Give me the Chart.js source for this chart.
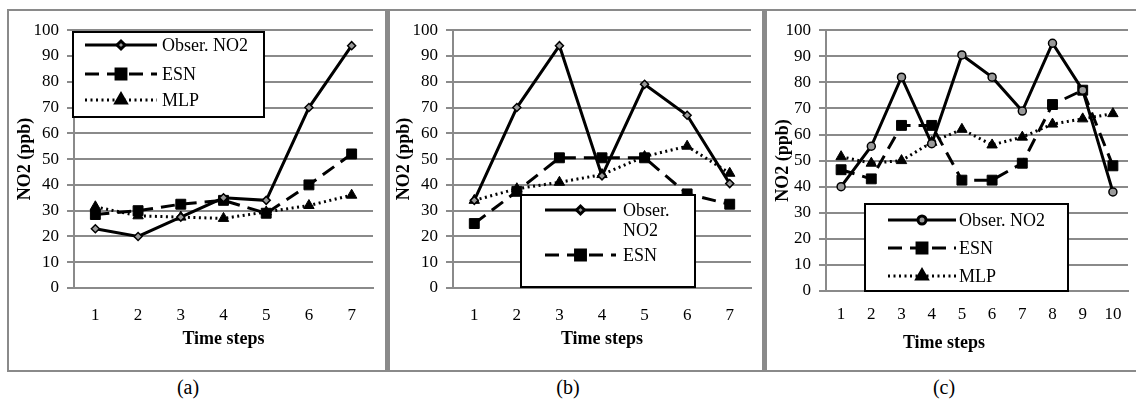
<!DOCTYPE html>
<html>
<head>
<meta charset="utf-8">
<script src="https://cdn.jsdelivr.net/npm/chart.js@4.4.0/dist/chart.umd.min.js"></script>
<style>
  body { margin: 0; background: #fff; width: 1136px; height: 408px; overflow: hidden; position: relative;
         font-family: "Liberation Serif", "Times New Roman", serif; }
  .frame { position: absolute; left: 7px; top: 9px; width: 1140px; height: 359px; border: 2px solid #8a8a8a; }
  .sep { position: absolute; top: 9px; height: 363px; width: 5px; background: #8a8a8a; }
  canvas { position: absolute; }
  .cap { position: absolute; top: 375px; font-size: 20px; line-height: 24px; transform: translateX(-50%); }
</style>
</head>
<body>
<div class="frame"></div>
<div class="sep" style="left:385px"></div>
<div class="sep" style="left:762px"></div>
<canvas id="chartA" width="376" height="358" style="left:9px;top:12px"></canvas>
<canvas id="chartB" width="372" height="358" style="left:390px;top:12px"></canvas>
<canvas id="chartC" width="369" height="358" style="left:767px;top:12px"></canvas>
<div class="cap" style="left:188px">(a)</div>
<div class="cap" style="left:568px">(b)</div>
<div class="cap" style="left:944px">(c)</div>

<script>
// data
var stepsA = ['1', '2', '3', '4', '5', '6', '7'];
var obsA = [23, 20, 27.5, 35, 34, 70, 94];
var esnA = [28.5, 30, 32.5, 34, 29, 40, 52];
var mlpA = [31.5, 28, 27.5, 27, 29.5, 32, 36];

var stepsB = ['1', '2', '3', '4', '5', '6', '7'];
var obsB = [34, 70, 94, 43.5, 79, 67, 40.5];
var esnB = [25, 37.5, 50.5, 50.5, 50.5, 36.5, 32.5];
var mlpB = [34, 38.5, 41, 44, 51, 55, 44.5];

var stepsC = ['1', '2', '3', '4', '5', '6', '7', '8', '9', '10'];
var obsC = [40, 55.5, 82, 56.5, 90.5, 82, 69, 95, 77, 38];
var esnC = [46.5, 43, 63.5, 63.5, 42.5, 42.5, 49, 71.5, 77, 48];
var mlpC = [51.5, 49, 50, 57, 62, 56, 59, 64, 66, 68];

var seriesNames = ['Obser. NO2', 'ESN', 'MLP'];

var FONT = '"Liberation Serif", "Times New Roman", serif';
var GRID = '#8a8a8a';

// legend box drawn inside the plot, like the Excel original
var boxLegend = {
  id: 'boxLegend',
  afterDraw: function (chart, args, o) {
    var ctx = chart.ctx;
    ctx.save();
    ctx.fillStyle = '#fff';
    ctx.fillRect(o.x, o.y, o.w, o.h);
    ctx.strokeStyle = '#000';
    ctx.lineWidth = 2;
    ctx.strokeRect(o.x, o.y, o.w, o.h);
    ctx.font = '18px ' + FONT;
    ctx.textBaseline = 'middle';
    ctx.fillStyle = '#000';
    o.rows.forEach(function (r) {
      if (r.ds != null) {
        var ds = chart.data.datasets[r.ds];
        ctx.save();
        ctx.strokeStyle = '#000';
        ctx.lineWidth = ds.borderWidth;
        ctx.setLineDash(ds.borderDash || []);
        ctx.beginPath();
        ctx.moveTo(o.lx0, r.y);
        ctx.lineTo(o.lx1, r.y);
        ctx.stroke();
        ctx.setLineDash([]);
        ctx.fillStyle = ds.pointBackgroundColor;
        ctx.strokeStyle = '#000';
        Chart.helpers.drawPoint(ctx, {
          pointStyle: ds.pointStyle, radius: ds.pointRadius,
          borderWidth: ds.pointBorderWidth, rotation: 0
        }, (o.lx0 + o.lx1) / 2, r.y);
        ctx.restore();
      }
      ctx.fillText(r.text, o.tx, r.y + 1);
    });
    ctx.restore();
  }
};

// x axis title ("Time steps"), with optional horizontal shift
var xTitle = {
  id: 'xTitle',
  afterDraw: function (chart, args, o) {
    var a = chart.chartArea, ctx = chart.ctx;
    ctx.save();
    ctx.font = 'bold 18px ' + FONT;
    ctx.fillStyle = '#000';
    ctx.textAlign = 'center';
    ctx.textBaseline = 'middle';
    ctx.fillText('Time steps', (a.left + a.right) / 2 + o.dx, a.bottom + o.dy);
    ctx.restore();
  }
};

function makeChart(id, steps, obs, esn, mlp, cfg) {
  var ctx = document.getElementById(id).getContext('2d');
  return new Chart(ctx, {
    type: 'line',
    data: {
      labels: steps,
      datasets: [{
        label: seriesNames[0],
        data: obs,
        borderColor: '#000',
        borderWidth: 3,
        pointStyle: cfg.obsStyle,
        pointRadius: 4,
        pointBackgroundColor: '#9a9a9a',
        pointBorderColor: '#000',
        pointBorderWidth: 1.5,
        tension: 0
      }, {
        label: seriesNames[1],
        data: esn,
        borderColor: '#000',
        borderWidth: 3,
        borderDash: [14, 8],
        pointStyle: 'rect',
        pointRadius: 7,
        pointBackgroundColor: '#000',
        pointBorderColor: '#000',
        pointBorderWidth: 1,
        tension: 0
      }, {
        label: seriesNames[2],
        data: mlp,
        borderColor: '#000',
        borderWidth: 3,
        borderDash: [2, 3.5],
        pointStyle: 'triangle',
        pointRadius: 6,
        pointBackgroundColor: '#000',
        pointBorderColor: '#000',
        pointBorderWidth: 1,
        tension: 0
      }]
    },
    options: {
      responsive: false,
      animation: false,
      devicePixelRatio: 1,
      layout: { padding: { top: cfg.padTop, right: cfg.padRight, left: 0, bottom: 0 } },
      plugins: {
        legend: { display: false },
        tooltip: { enabled: false },
        boxLegend: cfg.legend,
        xTitle: cfg.xTitle
      },
      scales: {
        x: {
          offset: true,
          grid: { display: false, drawTicks: false },
          border: { display: true, color: GRID, width: 2 },
          ticks: { color: '#000', font: { family: FONT, size: 17 }, padding: cfg.xTickPad, maxRotation: 0, autoSkip: false },
          afterFit: function (s) { s.height = cfg.xAxisH; }
        },
        y: {
          min: 0,
          max: 100,
          ticks: { stepSize: 10, color: '#000', font: { family: FONT, size: 17 }, padding: 8 },
          grid: { color: GRID, lineWidth: 2, tickLength: 7 },
          border: { color: GRID, width: 2 },
          title: {
            display: true, text: 'NO2 (ppb)', color: '#000',
            font: { family: FONT, size: 18, weight: 'bold' },
            padding: { top: cfg.yTitlePad, bottom: 0 }
          },
          afterFit: function (s) { s.width = cfg.yAxisW; }
        }
      }
    },
    plugins: [boxLegend, xTitle]
  });
}

makeChart('chartA', stepsA, obsA, esnA, mlpA, {
  obsStyle: 'rectRot', padTop: 16, padRight: 12, xAxisH: 82, yAxisW: 65, xTickPad: 17, yTitlePad: 6,
  xTitle: { dx: 0, dy: 51 },
  legend: { x: 64, y: 20, w: 191, h: 85, lx0: 76, lx1: 148, tx: 153,
    rows: [{ ds: 0, y: 33, text: seriesNames[0] }, { ds: 1, y: 62, text: seriesNames[1] }, { ds: 2, y: 88, text: seriesNames[2] }] }
});

makeChart('chartB', stepsB, obsB, esnB, mlpB, {
  obsStyle: 'rectRot', padTop: 16, padRight: 11, xAxisH: 82, yAxisW: 63, xTickPad: 17, yTitlePad: 4,
  xTitle: { dx: 0, dy: 51 },
  legend: { x: 131, y: 183, w: 174, h: 92, lx0: 155, lx1: 226, tx: 233,
    rows: [{ ds: 0, y: 198, text: 'Obser.' }, { ds: null, y: 218, text: 'NO2' }, { ds: 1, y: 243, text: seriesNames[1] }] }
});

makeChart('chartC', stepsC, obsC, esnC, mlpC, {
  obsStyle: 'circle', padTop: 12, padRight: 7, xAxisH: 79, yAxisW: 59, xTickPad: 13, yTitlePad: 6,
  xTitle: { dx: -33, dy: 52 },
  legend: { x: 98, y: 192, w: 203, h: 87, lx0: 121, lx1: 189, tx: 192,
    rows: [{ ds: 0, y: 208, text: seriesNames[0] }, { ds: 1, y: 236, text: seriesNames[1] }, { ds: 2, y: 264, text: seriesNames[2] }] }
});
</script>
</body>
</html>
